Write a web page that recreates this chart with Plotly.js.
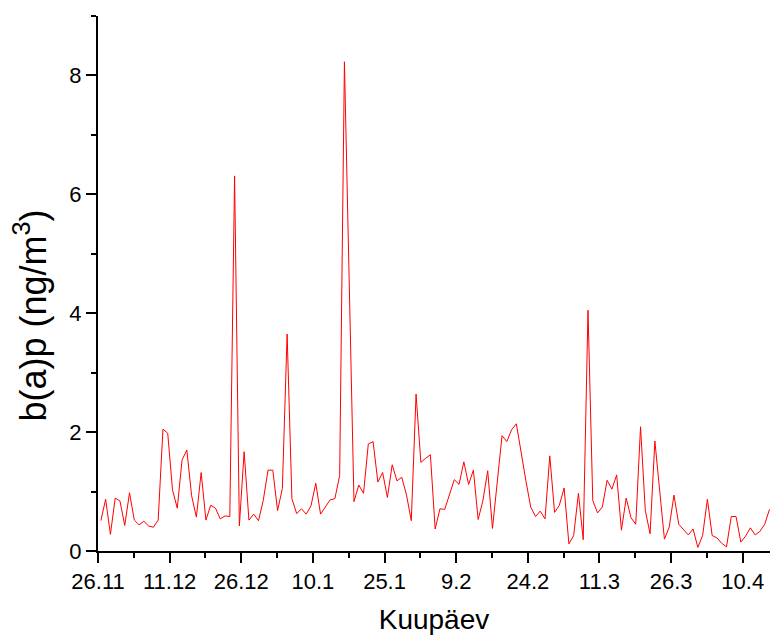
<!DOCTYPE html>
<html>
<head>
<meta charset="utf-8">
<script src="https://cdn.plot.ly/plotly-3.0.1.min.js"></script>
<style>html,body{margin:0;padding:0;background:#fff;}#chart{width:771px;height:635px;}</style>
</head>
<body>
<div id="chart"></div>
<script>
// Daily b(a)p values starting 26.11 (null = missing day)
const startUTC = Date.UTC(2006, 10, 26, 14, 24);
const bapValues = [
  0.51,0.87,0.28,0.89,0.84,0.43,0.98,0.52,0.44,0.50,
  0.42,0.40,0.52,2.05,1.98,1.03,0.72,1.53,1.70,0.93,
  0.57,1.32,0.52,0.77,0.72,0.54,0.59,0.58,6.31,0.42,
  1.67,0.52,0.62,0.51,0.85,1.36,1.36,0.68,1.05,3.65,
  0.88,0.63,0.71,0.62,0.76,1.14,0.62,0.75,0.86,0.88,
  1.27,8.23,null,0.83,1.11,0.97,1.80,1.84,1.16,1.32,
  0.90,1.45,1.18,1.24,0.94,0.51,2.64,1.49,1.56,1.62,
  0.37,0.71,0.70,0.95,1.20,1.12,1.50,1.12,1.36,0.53,
  0.85,1.35,0.38,1.16,1.94,1.84,2.04,2.14,1.62,1.18,
  0.74,0.58,0.67,0.54,1.60,0.65,0.77,1.06,0.12,0.26,
  0.97,0.19,4.05,0.85,0.64,0.74,1.19,1.04,1.28,0.35,
  0.89,0.56,0.45,2.09,0.68,0.29,1.85,1.03,0.20,0.40,
  0.94,0.45,0.36,0.27,0.37,0.06,0.26,0.87,0.26,0.22,
  0.13,0.07,0.58,0.58,0.15,0.25,0.39,0.27,0.33,0.45,
  0.70
];
const tickDates = ['2006-11-26','2006-12-11','2006-12-26','2007-01-10','2007-01-25',
                   '2007-02-09','2007-02-24','2007-03-11','2007-03-26','2007-04-10'];
const tickLabels = ['26.11','11.12','26.12','10.1','25.1','9.2','24.2','11.3','26.3','10.4'];
const xRange = ['2006-11-26 00:00','2007-04-15 17:00'];
const yTickVals = [0,2,4,6,8];
const xTitle = 'Kuupäev';
const yTitle = 'b(a)p (ng/m<sup>3</sup>)';

function fmt(ms){ return new Date(ms).toISOString().slice(0,19).replace('T',' '); }
const dates = bapValues.map((v,i) => fmt(startUTC + i*864e5));

const font = 'Liberation Sans, Arial, sans-serif';
const trace = {
  x: dates, y: bapValues, type: 'scatter', mode: 'lines',
  connectgaps: true,
  line: {color: '#ff0000', width: 1},
  hoverinfo: 'skip'
};
const layout = {
  width: 771, height: 635,
  margin: {l: 98, r: 1, t: 16, b: 84},
  paper_bgcolor: '#fff', plot_bgcolor: '#fff',
  showlegend: false,
  font: {family: font, color: '#000'},
  xaxis: {
    type: 'date', range: xRange,
    tickmode: 'array', tickvals: tickDates, ticktext: tickLabels,
    ticks: 'outside', ticklen: 10, tickwidth: 2, tickcolor: '#000',
    minor: {tickmode: 'linear', tick0: '2006-11-26', dtick: 7.5*864e5, ticks: 'outside', ticklen: 5, tickwidth: 2, tickcolor: '#000', showgrid: false},
    showline: true, linewidth: 2, linecolor: '#000',
    showgrid: false, zeroline: false,
    tickfont: {size: 22, family: font},
    title: {text: xTitle, font: {size: 28, family: font}, standoff: 18}
  },
  yaxis: {
    range: [0, 9],
    tickmode: 'array', tickvals: yTickVals,
    ticks: 'outside', ticklen: 10, tickwidth: 2, tickcolor: '#000',
    minor: {tickmode: 'linear', tick0: 0, dtick: 1, ticks: 'outside', ticklen: 5, tickwidth: 2, tickcolor: '#000', showgrid: false},
    showline: true, linewidth: 2, linecolor: '#000',
    showgrid: false, zeroline: false,
    tickfont: {size: 22, family: font}
  },
  annotations: [{
    text: yTitle, textangle: -90,
    xref: 'paper', yref: 'paper', x: 0, y: 0.44,
    xanchor: 'center', yanchor: 'middle', xshift: -68,
    showarrow: false,
    font: {size: 36, family: font, color: '#000'}
  }]
};
Plotly.newPlot('chart', [trace], layout, {displayModeBar: false, staticPlot: true});
</script>
</body>
</html>
